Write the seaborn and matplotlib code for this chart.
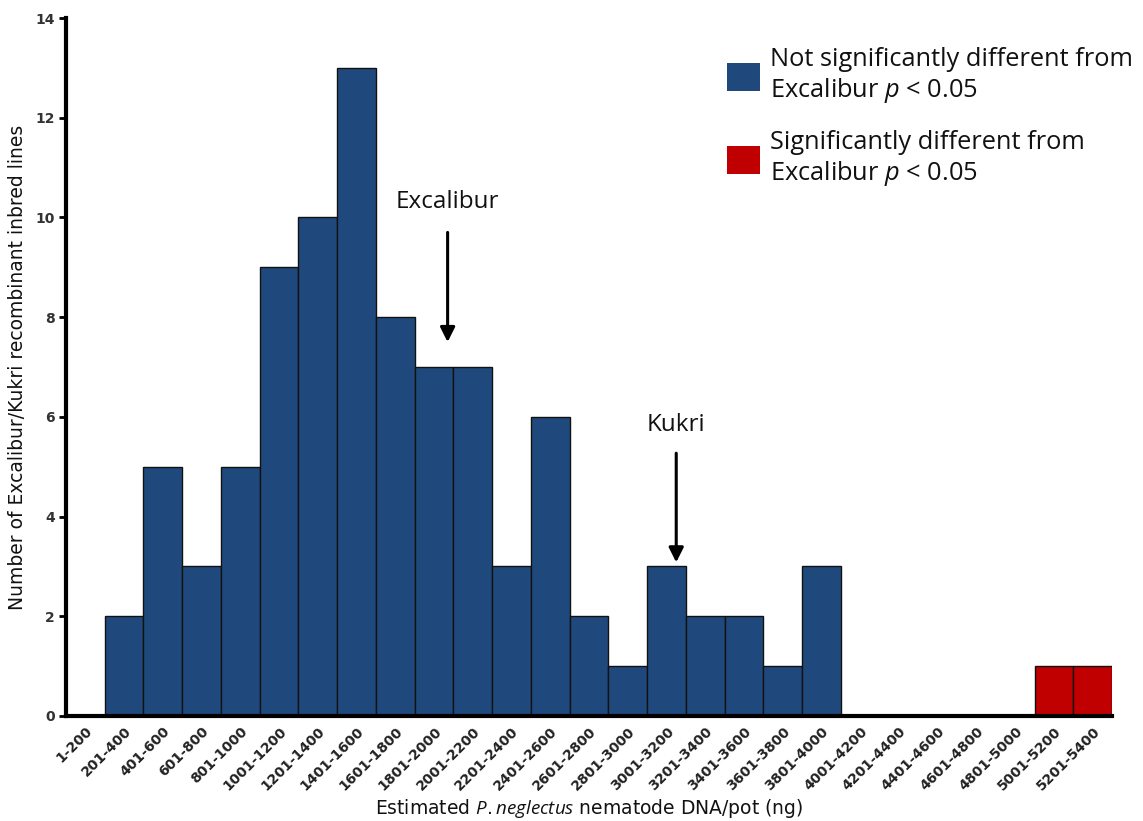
import matplotlib
matplotlib.use("Agg")
import matplotlib.pyplot as plt
from matplotlib.patches import Patch
import seaborn as sns
import pandas as pd

# DNA ranges (ng per pot) and number of recombinant inbred lines in each
ranges = ["1-200", "201-400", "401-600", "601-800", "801-1000", "1001-1200",
          "1201-1400", "1401-1600", "1601-1800", "1801-2000", "2001-2200",
          "2201-2400", "2401-2600", "2601-2800", "2801-3000", "3001-3200",
          "3201-3400", "3401-3600", "3601-3800", "3801-4000", "4001-4200",
          "4201-4400", "4401-4600", "4601-4800", "4801-5000", "5001-5200",
          "5201-5400"]
counts = [0, 2, 5, 3, 5, 9, 10, 13, 8, 7, 7, 3, 6, 2, 1, 3, 2, 2, 1, 3,
          0, 0, 0, 0, 0, 1, 1]
significant = [False] * 25 + [True, True]

group_labels = ["Not significantly different from\nExcalibur $p$ < 0.05",
                "Significantly different from\nExcalibur $p$ < 0.05"]
group_colors = ["#1f497d", "#c00000"]

df = pd.DataFrame({
    "range": ranges,
    "count": counts,
    "group": [group_labels[1] if s else group_labels[0] for s in significant],
})

sns.set_theme(style="white")
plt.rcParams["font.family"] = ["DejaVu Sans"]
plt.rcParams["mathtext.fontset"] = "custom"
plt.rcParams["mathtext.it"] = "Open Sans:italic"

fig = plt.figure(figsize=(11.43, 8.21), dpi=100)
ax = fig.add_axes([0.0577, 0.128, 0.9153, 0.85])

sns.barplot(data=df, x="range", y="count", hue="group", order=ranges,
            hue_order=group_labels, palette=group_colors, dodge=False,
            saturation=1, width=1.0, edgecolor="#111111", linewidth=1.0,
            legend=False, ax=ax)

ax.set_xlim(-0.5, len(ranges) - 0.5)
ax.set_ylim(0, 14)
ax.set_yticks(range(0, 15, 2))

for side in ("top", "right"):
    ax.spines[side].set_visible(False)
for side in ("left", "bottom"):
    ax.spines[side].set_linewidth(3)
    ax.spines[side].set_color("black")

ax.tick_params(axis="y", direction="out", length=5, width=2, color="black",
               labelsize=10, labelcolor="#333333", pad=3, left=True)
ax.tick_params(axis="x", length=0, labelsize=10, labelcolor="#222222", pad=6)
for lbl in ax.get_yticklabels():
    lbl.set_fontweight("bold")
ax.set_xticks(range(len(ranges)))
ax.set_xticklabels(ranges, rotation=45, ha="right", rotation_mode="anchor",
                   fontweight="bold")

ax.set_ylabel("Number of Excalibur/Kukri recombinant inbred lines",
              fontsize=13.5, color="#111111", labelpad=6)
ax.set_xlabel("Estimated $P. neglectus$ nematode DNA/pot (ng)",
              fontsize=13.5, color="#111111")
ax.xaxis.set_label_coords(0.5, -0.116)

# parental line markers
ann_font = dict(family="Open Sans", fontsize=17.5, color="#111111", ha="center")
ax.annotate("", xy=(9.35, 7.5), xytext=(9.35, 9.7),
            arrowprops=dict(arrowstyle="-|>", color="black", lw=2.2,
                            mutation_scale=22, shrinkA=0, shrinkB=0))
ax.text(9.35, 10.3, "Excalibur", va="center", **ann_font)
ax.annotate("", xy=(15.25, 3.08), xytext=(15.25, 5.27),
            arrowprops=dict(arrowstyle="-|>", color="black", lw=2.2,
                            mutation_scale=22, shrinkA=0, shrinkB=0))
ax.text(15.25, 5.84, "Kukri", va="center", **ann_font)

handles = [Patch(facecolor=c, edgecolor="none") for c in group_colors]
leg = fig.legend(handles, group_labels, loc="upper left",
                 bbox_to_anchor=(0.636, 0.943), frameon=False,
                 prop={"family": "Open Sans", "size": 18.3},
                 handlelength=1.3, handleheight=1.35, handletextpad=0.4,
                 labelspacing=0.98, borderpad=0, borderaxespad=0)
for t in leg.get_texts():
    t.set_color("#111111")

fig.savefig("out.png", dpi=100)
